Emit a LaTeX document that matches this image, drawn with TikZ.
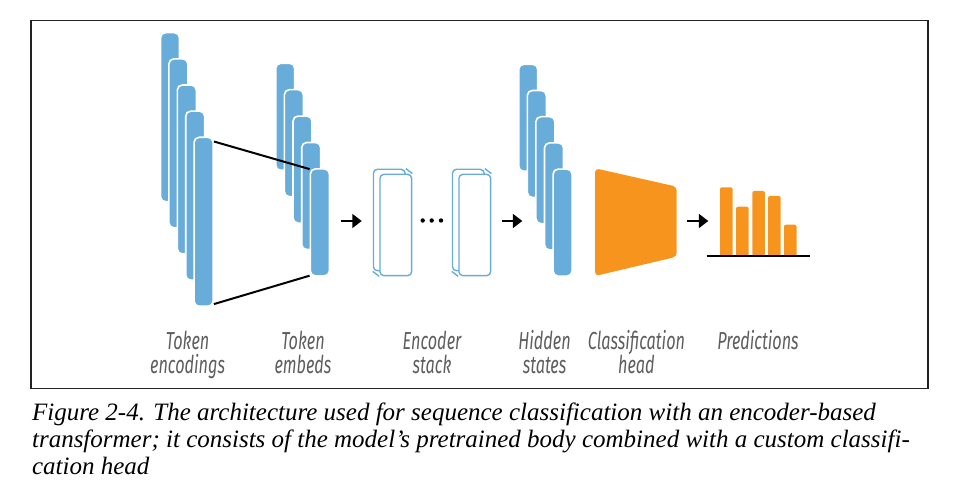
\documentclass[tikz,border=0pt]{standalone}
\usepackage{fontspec}
\setmainfont{Liberation Serif}
\newfontfamily\labelfont[FakeStretch=0.66]{Fira Sans}
\usepackage{xcolor}
\usetikzlibrary{arrows.meta}
\usetikzlibrary{positioning}
\usetikzlibrary{calc}

\definecolor{barblue}{HTML}{68ACD9}
\definecolor{headorange}{HTML}{F7941E}
\definecolor{labelgray}{HTML}{5E5E5E}
\definecolor{framegray}{HTML}{222222}

\tikzset{
	frame/.style={draw=framegray, line width=0.75pt},
	bar/.style={draw=white, line width=0.8pt, fill=barblue, rounded corners=2.5pt, minimum width=9.5pt, inner sep=0pt},
	stackbox/.style={draw=barblue, line width=0.7pt, fill=white, rounded corners=2pt, minimum width=15.85pt, minimum height=50.7pt, inner sep=0pt},
	link/.style={line width=1pt, black},
	flow/.style={line width=0.8pt, black, -{Triangle[length=4.7pt,width=7pt]}},
	lbl/.style={font=\labelfont\itshape\fontsize{12.3}{12}\selectfont, text=labelgray, align=center, anchor=base, inner sep=0pt},
	caption/.style={font=\itshape\fontsize{12.5}{13.5}\selectfont, align=left, anchor=base west, inner sep=0pt}
}

\begin{document}
\begin{tikzpicture}[x=0.5pt,y=-0.5pt]
	\useasboundingbox (0,0) rectangle (959,501);
	\draw[frame] (31,20.5) rectangle (928,388.5);

	\foreach \i in {1,...,5}
		\node[bar, minimum height=84.5pt] (enc\i) at ({170+8.4*(\i-1)},{117.2+26.15*(\i-1)}) {};
	\foreach \i in {1,...,5}
		\node[bar, minimum height=53.5pt] (emb\i) at ({285.2+8.67*(\i-1)},{116.8+26.4*(\i-1)}) {};
	\draw[link] ([yshift=-2.5pt]enc5.north east) -- ([yshift=-0.5pt]emb5.north west);
	\draw[link] ([yshift=1.5pt]enc5.south east) -- ([yshift=0.5pt]emb5.south west);

	\coordinate (f1s) at (341.3,221);
	\coordinate (f1e) at (361.7,221);
	\draw[flow] (f1s) -- (f1e);

	\foreach \n/\x in {stackA/395.8, stackB/474.8} {
		\node[stackbox] (\n-b) at (\x-6.5,220) {};
		\node[stackbox] (\n) at (\x,225) {};
		\draw[barblue, line width=0.7pt] (\n-b.north east) -- (\n.north east);
		\draw[barblue, line width=0.7pt] (\n-b.south west) -- (\n.south west);
	}
	\foreach \x in {422.7,431.7,441}
		\fill (\x,220.5) circle (1.1pt);

	\coordinate (f2s) at (502.3,221);
	\coordinate (f2e) at (522.3,221);
	\draw[flow] (f2s) -- (f2e);

	\foreach \i in {1,...,5}
		\node[bar, minimum height=53.5pt] (hid\i) at ({528.2+8.6*(\i-1)},{117.8+26.2*(\i-1)}) {};

	\fill[headorange, rounded corners=2pt] (595,168.3) -- (676.7,186.7) -- (676.7,256.7) -- (595,276) -- cycle;

	\coordinate (f3s) at (687.3,221);
	\coordinate (f3e) at (708.3,221);
	\draw[flow] (f3s) -- (f3e);

	\foreach \x/\t in {720/187.3, 736/206.7, 752.3/191, 768/196, 784/224.7}
		\fill[headorange, rounded corners=1pt] (\x,256) rectangle (\x+12.6,\t);
	\draw[line width=0.75pt] (706.7,256) -- (810,256);

	\node[lbl] (l-enc) at (187.6,373.3) {Token\\encodings};
	\node[lbl] (l-emb) at (303,373.3) {Token\\embeds};
	\node[lbl] (l-stack) at (432,373.3) {Encoder\\stack};
	\node[lbl] (l-hid) at (544.6,373.3) {Hidden\\states};
	\node[lbl] (l-head) at (636.5,373.3) {Classification\\head};
	\node[lbl] (l-pred) at (758,349.3) {Predictions};

	\node[caption] (cap) at (31.7,474.5) {Figure 2-4. The architecture used for sequence classification with an encoder-based\\transformer; it consists of the model’s pretrained body combined with a custom classifi-\\cation head};
\end{tikzpicture}
\end{document}
